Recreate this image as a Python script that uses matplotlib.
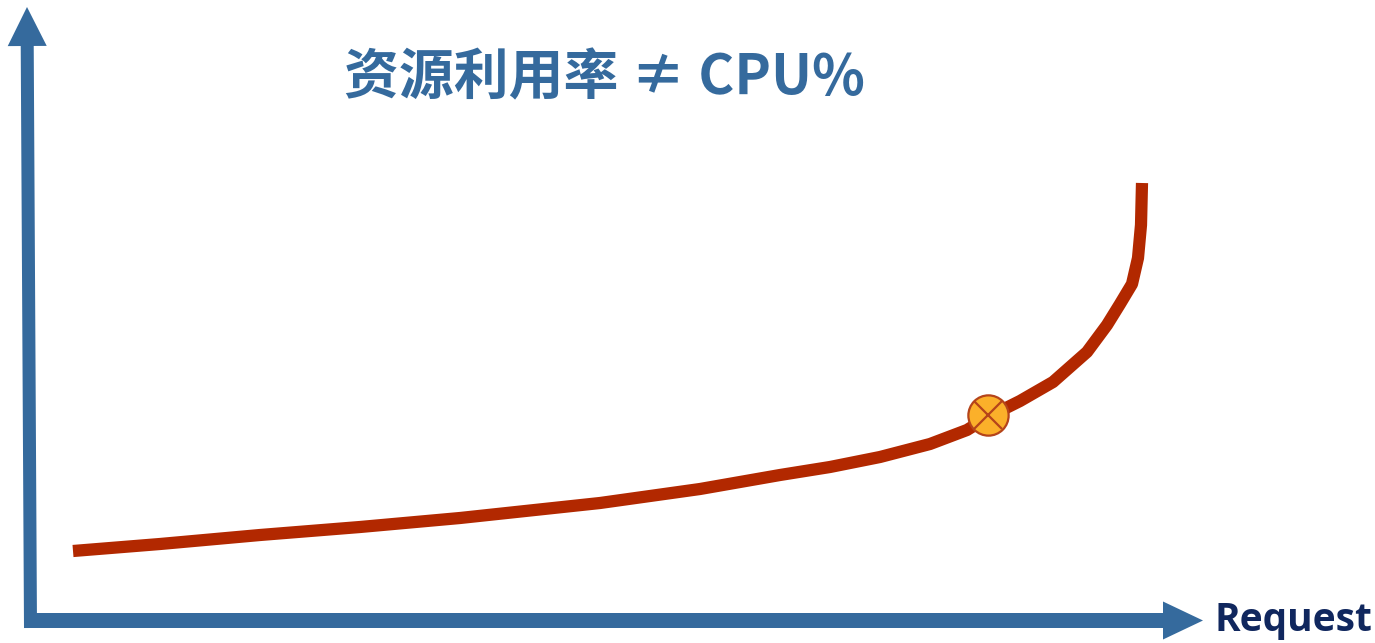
import matplotlib
matplotlib.use('Agg')
import matplotlib.pyplot as plt
from matplotlib.patches import FancyArrow

# curve (x: request, y: utilisation, origin at axis corner)
request = [43, 130, 230, 330, 430, 570, 670, 750, 800, 850, 900, 937, 958, 990,
           1023, 1057, 1077, 1090, 1102, 1108, 1111, 1112]
utilization = [69, 76, 85, 93, 102, 117, 131, 145, 153, 163, 176, 190, 203, 219,
               238, 268, 295, 316, 336, 362, 395, 437]
knee = (958, 205)

title = '资源利用率 ≠ CPU%'
xlabel = 'Request'

blue = '#356A9D'
red = '#B22800'

fig = plt.figure(figsize=(13.75, 6.43), dpi=100)
ax = fig.add_axes([0, 0, 1, 1])
ax.set_xlim(-30, 1345)
ax.set_ylim(-23, 620)
ax.axis('off')

# axes arrows
ax.add_patch(FancyArrow(0.5, -8, -3.5, 621, width=13, head_width=39, head_length=39,
                        length_includes_head=True, color=blue, lw=0))
ax.add_patch(FancyArrow(-6, -0.5, 1179, 0, width=15, head_width=38, head_length=40,
                        length_includes_head=True, color=blue, lw=0))

ax.plot(request, utilization, color=red, lw=8.8, solid_capstyle='butt',
        solid_joinstyle='round', zorder=3)

ax.plot(*knee, marker='o', ms=29, mfc='#FBB02A', mec='#B5441A', mew=1.6, zorder=4)
ax.plot(*knee, marker='x', ms=20, mec='#B5441A', mew=1.6, zorder=5)

ax.text(574, 542, title, ha='center', va='center', fontsize=39.5, fontweight='bold',
        color=blue, family=['Noto Sans CJK SC', 'DejaVu Sans'])
ax.text(1185, -1, xlabel, ha='left', va='center', fontsize=28, fontweight='bold',
        color='#10275E', family=['Open Sans', 'DejaVu Sans'])

fig.savefig('out.png', dpi=100)
